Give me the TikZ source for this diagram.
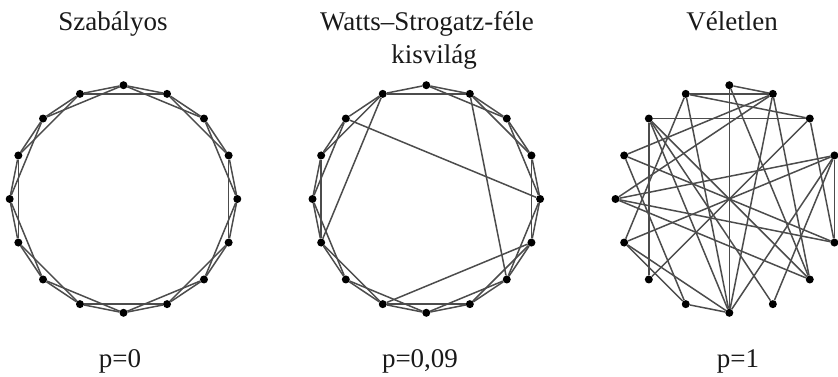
\documentclass[tikz,border=0pt]{standalone}
\usepackage{fontspec}
\setmainfont{Liberation Serif}
\begin{document}
\begin{tikzpicture}[x=1pt,y=1pt,
  dot/.style={circle,fill=black,inner sep=0pt,minimum size=8pt},
  edge/.style={draw=black!70,line width=1.5pt},
  label/.style={font=\fontsize{27}{30}\selectfont,text=black!90,anchor=base,inner sep=0pt},
]
\useasboundingbox (0,0) rectangle (838,376);
\clip (0,0) rectangle (838,376);
% nodes of the three rings
\foreach \c/\cx in {a/123.5,b/426.3,c/729.3}{
  \foreach \i in {0,...,15}{
    \node[dot] (\c\i) at ({\cx+113.8*cos(90-22.5*\i)},{177+113.8*sin(90-22.5*\i)}) {};
  }
}
% ring 1: regular lattice
\foreach \i in {0,...,15}{
  \pgfmathtruncatemacro\j{mod(\i+1,16)}
  \pgfmathtruncatemacro\k{mod(\i+2,16)}
  \draw[edge] (a\i) -- (a\j);
  \draw[edge] (a\i) -- (a\k);
}
% ring 2: Watts-Strogatz
\foreach \u/\v in {0/1,1/2,2/3,3/4,4/5,5/6,6/7,7/8,8/9,9/10,10/11,11/12,12/13,13/14,14/15,15/0,
  0/2,1/3,2/4,3/5,4/6,5/7,6/8,7/9,8/10,9/11,10/12,11/13,12/14,13/15,15/1,
  14/4,15/11,1/6,5/9}{
  \draw[edge] (b\u) -- (b\v);
}
% ring 3: random
\foreach \u/\v in {0/1,0/8,0/6,1/13,1/12,1/8,1/6,1/15,2/14,2/10,2/5,2/15,
  3/5,3/11,3/12,3/7,3/8,14/10,14/7,14/6,14/8,15/11,15/8,12/5,12/6,
  11/8,11/9,13/5,13/9,9/8}{
  \draw[edge] (c\u) -- (c\v);
}
% labels
\node[label] (t1) at (113,346) {Szabályos};
\node[label] (t2) at (427,346) {Watts–Strogatz-féle};
\node[label] (t3) at (434,313) {kisvilág};
\node[label] (t4) at (732,346) {Véletlen};
\node[label] (p1) at (120,9) {p=0};
\node[label] (p2) at (420,9) {p=0,09};
\node[label] (p3) at (738,9) {p=1};
\end{tikzpicture}
\end{document}
